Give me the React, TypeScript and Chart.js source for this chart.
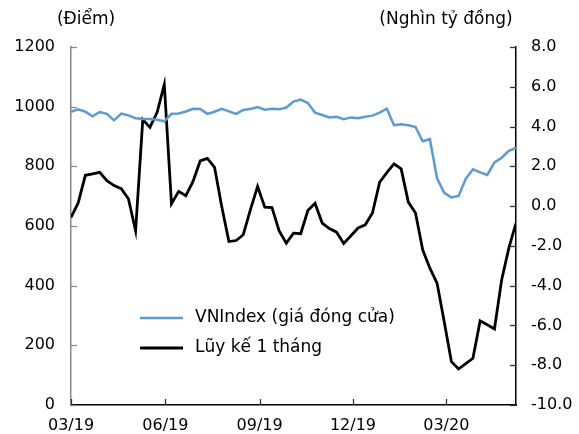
import React, { useEffect, useRef } from "react";
import { Chart, registerables } from "chart.js";

Chart.register(...registerables);

// Weekly observations, starting the week of 01/03/2019
const vnIndex = [
  983, 991, 983, 968, 982, 976, 954, 977, 971, 961,
  959, 959, 956, 951, 976, 977, 984, 993, 992, 976,
  983, 993, 984, 976, 989, 992, 999, 990, 993, 991,
  997, 1017, 1024, 1012, 980, 972, 964, 966, 958, 964,
  961, 966, 970, 980, 993, 938, 941, 938, 932, 884,
  891, 760, 711, 696, 701, 758, 790, 780, 771, 813,
  829, 852, 862,
];

const luyKe1Thang = [
  -0.57, 0.16, 1.55, 1.62, 1.7, 1.28, 1.03, 0.88, 0.37, -1.24,
  4.35, 3.96, 4.72, 6.12, 0.12, 0.74, 0.52, 1.24, 2.27, 2.4,
  1.95, -0.02, -1.78, -1.73, -1.44, -0.18, 0.99, -0.05, -0.07, -1.25,
  -1.86, -1.36, -1.39, -0.22, 0.14, -0.85, -1.13, -1.31, -1.88, -1.49,
  -1.1, -0.94, -0.35, 1.2, 1.68, 2.12, 1.87, 0.2, -0.35, -2.2,
  -3.12, -3.87, -5.81, -7.82, -8.19, -7.92, -7.65, -5.77, -5.97, -6.18,
  -3.71, -2.11, -0.85,
];

// x positions: days since 01/03/2019 (weekly)
const weekDays = vnIndex.map((_, i) => i * 7);
const tickDays = [0, 92, 184, 275, 366];
const tickLabels = ["03/19", "06/19", "09/19", "12/19", "03/20"];

const seriesLabels = ["VNIndex (giá đóng cửa)", "Lũy kế 1 tháng"];
const leftTitle = "(Điểm)";
const rightTitle = "(Nghìn tỷ đồng)";

const FONT = "DejaVu Sans";

export default function App() {
  const ref = useRef<HTMLCanvasElement | null>(null);

  useEffect(() => {
    document.body.style.margin = "0";
    const canvas = ref.current;
    if (!canvas) return;

    const decor = {
      id: "decor",
      afterDraw(chart: any) {
        const { ctx, chartArea, scales } = chart;
        ctx.save();
        // inner tick marks
        ctx.lineWidth = 1.3;
        ctx.strokeStyle = "#888888";
        scales.y.ticks.forEach((t: any) => {
          const y = Math.round(scales.y.getPixelForValue(t.value)) + 0.5;
          ctx.beginPath();
          ctx.moveTo(chartArea.left, y);
          ctx.lineTo(chartArea.left + 6, y);
          ctx.stroke();
        });
        ctx.strokeStyle = "#333333";
        scales.y1.ticks.forEach((t: any) => {
          const y = Math.round(scales.y1.getPixelForValue(t.value)) + 0.5;
          ctx.beginPath();
          ctx.moveTo(chartArea.right, y);
          ctx.lineTo(chartArea.right - 6, y);
          ctx.stroke();
        });
        tickDays.forEach((d) => {
          const x = Math.round(scales.x.getPixelForValue(d)) + 0.5;
          ctx.beginPath();
          ctx.moveTo(x, chartArea.bottom);
          ctx.lineTo(x, chartArea.bottom - 6);
          ctx.stroke();
        });

        // axis titles
        ctx.fillStyle = "#000";
        ctx.font = `17px "${FONT}"`;
        ctx.textBaseline = "middle";
        ctx.textAlign = "center";
        ctx.fillText(leftTitle, 86, 20);
        ctx.fillText(rightTitle, 446, 20);

        // legend inside plot
        const lx = chartArea.left + 69;
        const ly = chartArea.top + 271;
        chart.data.datasets.forEach((ds: any, i: number) => {
          const yy = ly + i * 30;
          ctx.strokeStyle = ds.borderColor;
          ctx.lineWidth = ds.borderWidth;
          ctx.beginPath();
          ctx.moveTo(lx, yy);
          ctx.lineTo(lx + 43, yy);
          ctx.stroke();
          ctx.fillStyle = "#000";
          ctx.textAlign = "left";
          ctx.fillText(ds.label, lx + 55, yy);
        });
        ctx.restore();
      },
    };

    const chart = new Chart(canvas, {
      type: "line",
      data: {
        datasets: [
          {
            label: seriesLabels[0],
            data: vnIndex.map((v, i) => ({ x: weekDays[i], y: v })),
            borderColor: "#5B9BD5",
            borderWidth: 2.5,
            pointRadius: 0,
            tension: 0,
            yAxisID: "y",
          },
          {
            label: seriesLabels[1],
            data: luyKe1Thang.map((v, i) => ({ x: weekDays[i], y: v })),
            borderColor: "#000000",
            borderWidth: 2.8,
            pointRadius: 0,
            tension: 0,
            yAxisID: "y1",
          },
        ],
      },
      options: {
        animation: false,
        responsive: false,
        events: [],
        layout: { padding: { top: 47, left: 0, right: 0, bottom: 0 } },
        plugins: { legend: { display: false }, tooltip: { enabled: false } },
        scales: {
          x: {
            type: "linear",
            min: 0,
            max: weekDays[weekDays.length - 1],
            afterBuildTicks: (s: any) => {
              s.ticks = tickDays.map((v) => ({ value: v }));
            },
            afterFit: (s: any) => {
              s.height = 29;
            },
            grid: { display: false, drawTicks: false, tickLength: 0 },
            border: { display: true, color: "#000", width: 1.5 },
            ticks: {
              autoSkip: false,
              maxRotation: 0,
              padding: 11,
              color: "#000",
              font: { family: FONT, size: 16 },
              callback: (v: any) => {
                const k = tickDays.indexOf(Number(v));
                return k >= 0 ? tickLabels[k] : "";
              },
            },
          },
          y: {
            position: "left",
            min: 0,
            max: 1200,
            afterFit: (s: any) => {
              s.width = 71;
            },
            grid: { display: false, drawTicks: false, tickLength: 0 },
            border: { display: true, color: "#888888", width: 1.5 },
            ticks: {
              stepSize: 200,
              padding: 16,
              color: "#000",
              font: { family: FONT, size: 16 },
              callback: (v: any) => String(Math.round(Number(v))),
            },
          },
          y1: {
            position: "right",
            min: -10,
            max: 8,
            afterFit: (s: any) => {
              s.width = 63;
            },
            grid: { display: false, drawTicks: false, tickLength: 0 },
            border: { display: true, color: "#000", width: 1.5 },
            ticks: {
              stepSize: 2,
              padding: 15,
              color: "#000",
              font: { family: FONT, size: 16 },
              callback: (v: any) => Number(v).toFixed(1),
            },
          },
        },
      },
      plugins: [decor],
    } as any);

    return () => chart.destroy();
  }, []);

  return (
    <div style={{ width: 579, height: 434, background: "#fff" }}>
      <canvas ref={ref} width={579} height={434} style={{ display: "block" }} />
    </div>
  );
}
